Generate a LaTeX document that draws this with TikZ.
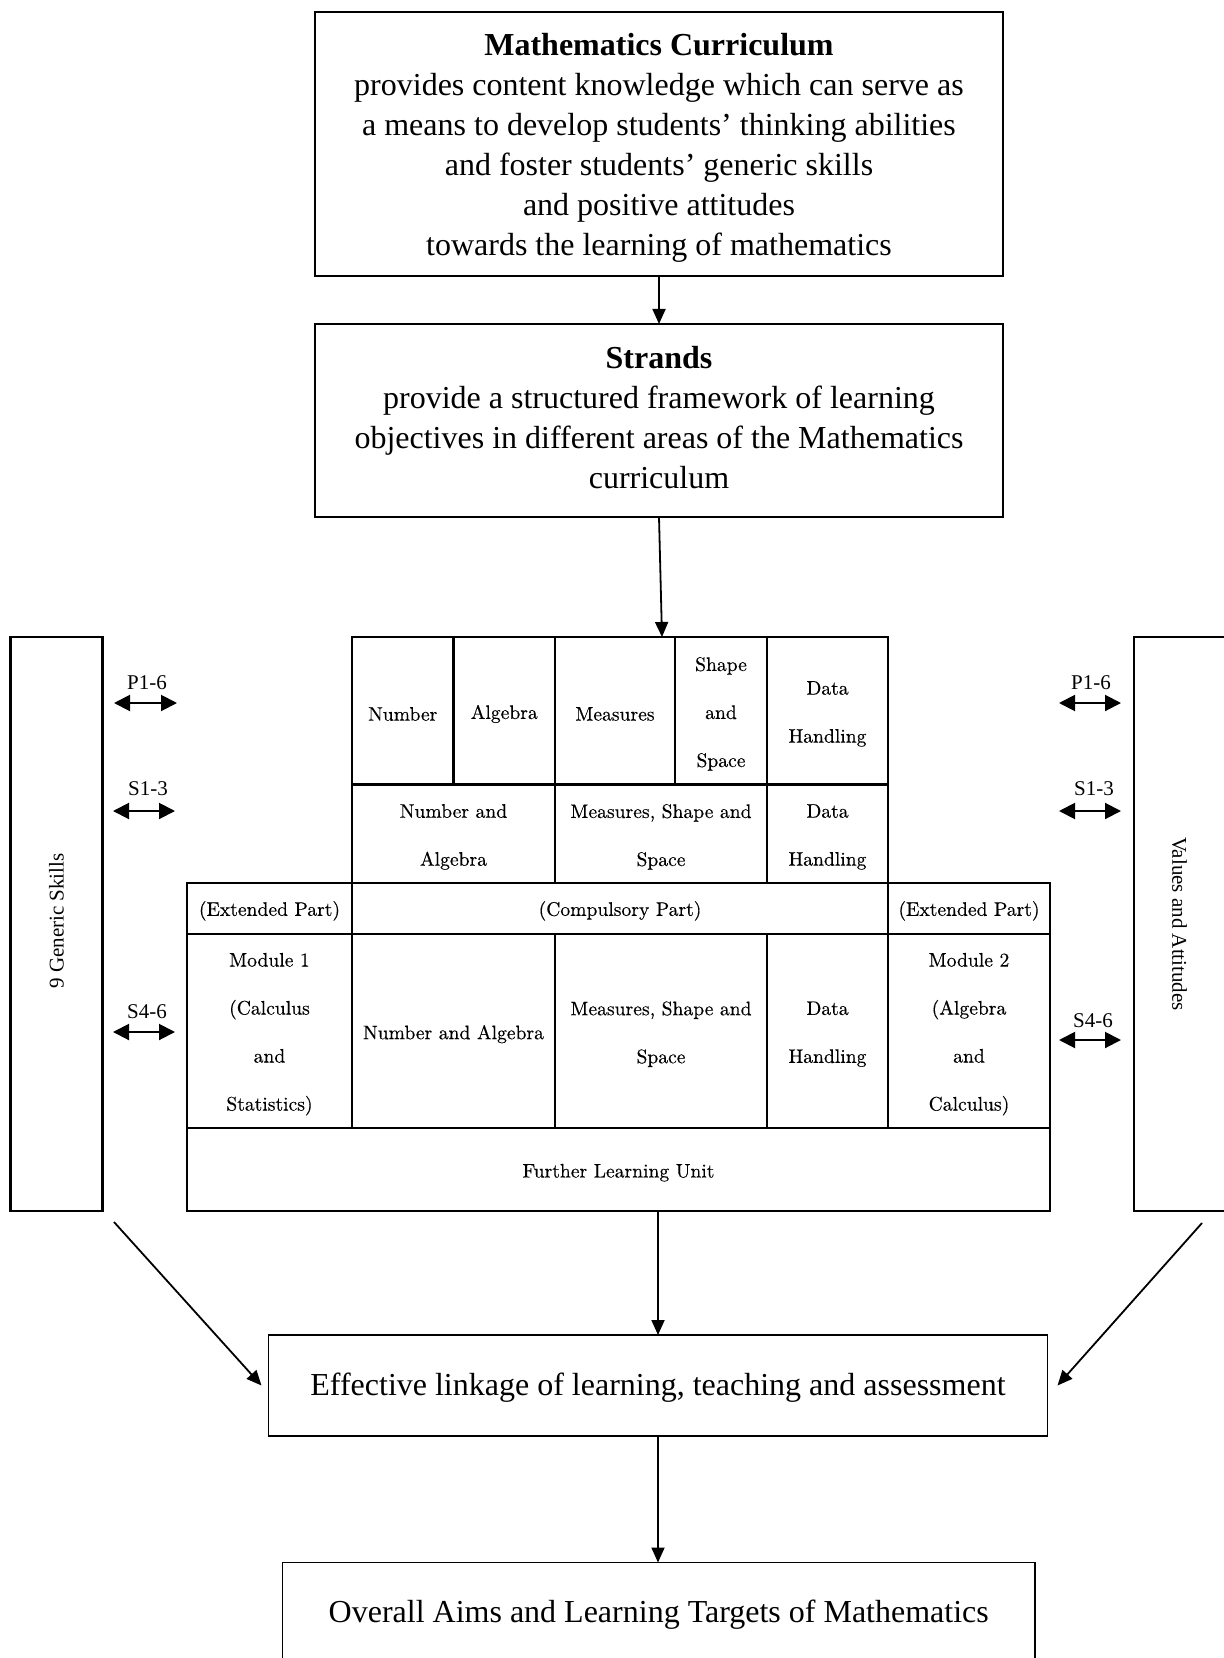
\documentclass[tikz,border=0pt]{standalone}
\usepackage{fontspec}
\newfontfamily\tnr{Liberation Serif}
\newfontfamily\tabfont[FakeBold=0.35]{lmroman10-regular.otf}
\usetikzlibrary{arrows.meta}
% #1 style, #2 name, #3 centre, #4 width, #5 height, #6 text shift, #7 text
\newcommand\mybox[7]{%
  \node[#1, minimum width=#4, minimum height=#5] (#2) at #3 {};
  \node[#1, draw=none, yshift=#6] (#2-t) at (#2.center) {#7};
}
\begin{document}
\begin{tikzpicture}[x=0.5pt,y=-0.5pt,
  cell/.style={draw, line width=1.35pt, inner sep=0pt, outer sep=0pt, align=center,
    font=\tabfont\fontsize{9.8}{24}\selectfont},
  bigbox/.style={draw, line width=1.1pt, inner sep=0pt, outer sep=0pt, align=center,
    font=\tnr\fontsize{16}{20}\selectfont},
  thinbox/.style={bigbox, line width=0.8pt},
  sidebox/.style={draw, line width=1.35pt, inner sep=0pt, outer sep=0pt},
  sidetext/.style={font=\tnr\fontsize{10.5}{12}\selectfont, inner sep=0pt},
  lvl/.style={font=\tnr\fontsize{10.5}{12}\selectfont, inner sep=0pt},
  flow/.style={line width=0.9pt, -{Triangle[length=7.5pt,width=6.5pt]}},
  both/.style={line width=1pt, {Triangle[length=8pt,width=8pt]}-{Triangle[length=8pt,width=8pt]}},
]
\useasboundingbox (0,0) rectangle (1224,1658);
\clip (0,0) rectangle (1224,1658);

% top boxes
\mybox{bigbox}{cur}{(659,144)}{344pt}{132pt}{-2pt}
  {\textbf{Mathematics Curriculum}\\provides content knowledge which can serve as\\a means to develop students’ thinking abilities\\and foster students’ generic skills\\and positive attitudes\\towards the learning of mathematics}
\mybox{bigbox}{str}{(659,420.5)}{344pt}{96.5pt}{1.5pt}
  {\textbf{Strands}\\provide a structured framework of learning\\objectives in different areas of the Mathematics\\curriculum}
\draw[flow] (cur) -- (str);

% table row 1
\mybox{cell}{num1}{(402.75,710.75)}{50.75pt}{73.75pt}{-1.6pt}{Number}
\mybox{cell}{alg1}{(504.25,710.75)}{50.75pt}{73.75pt}{-1.6pt}{Algebra}
\mybox{cell}{mea1}{(615,710.75)}{60pt}{73.75pt}{-1.6pt}{Measures}
\mybox{cell}{shs1}{(721,710.75)}{46pt}{73.75pt}{-1.6pt}{Shape\\and\\Space}
\mybox{cell}{dh1}{(827.5,710.75)}{60.5pt}{73.75pt}{-1.6pt}{Data\\Handling}
% row 2
\mybox{cell}{na2}{(453.5,833.75)}{101.5pt}{49.25pt}{-1.6pt}{Number and\\Algebra}
\mybox{cell}{mss2}{(661,833.75)}{106pt}{49.25pt}{-1.6pt}{Measures, Shape and\\Space}
\mybox{cell}{dh2}{(827.5,833.75)}{60.5pt}{49.25pt}{-1.6pt}{Data\\Handling}
% row 3
\mybox{cell}{ext1}{(269.5,908.5)}{82.5pt}{25.5pt}{-1.2pt}{(Extended Part)}
\mybox{cell}{comp}{(620,908.5)}{268pt}{25.5pt}{-1.2pt}{(Compulsory Part)}
\mybox{cell}{ext2}{(969,908.5)}{81pt}{25.5pt}{-1.2pt}{(Extended Part)}
% row 4
\mybox{cell}{mod1}{(269.5,1031)}{82.5pt}{97pt}{-1.6pt}{Module 1\\(Calculus\\and\\Statistics)}
\mybox{cell}{na4}{(453.5,1031)}{101.5pt}{97pt}{-1.6pt}{Number and Algebra}
\mybox{cell}{mss4}{(661,1031)}{106pt}{97pt}{-1.6pt}{Measures, Shape and\\Space}
\mybox{cell}{dh4}{(827.5,1031)}{60.5pt}{97pt}{-1.6pt}{Data\\Handling}
\mybox{cell}{mod2}{(969,1031)}{81pt}{97pt}{-1.6pt}{Module 2\\(Algebra\\and\\Calculus)}
% row 5
\mybox{cell}{flu}{(618.5,1169.5)}{431.5pt}{41.5pt}{-1.6pt}{Further Learning Unit}

\coordinate (ttop) at (662,637);
\draw[flow] (str.south) -- (ttop);

% side boxes
\node[sidebox, minimum width=46pt, minimum height=287pt] (gen) at (56.5,924) {};
\node[sidetext, rotate=90, xshift=1.5pt] (gent) at (gen.center) {9 Generic Skills};
\node[sidebox, minimum width=45.5pt, minimum height=287pt] (val) at (1179.5,924) {};
\node[sidetext, rotate=-90] (valt) at (val.center) {Values and Attitudes};

% double arrows, left
\coordinate (lpa) at (114,703); \coordinate (lpb) at (177,703);
\draw[both] (lpa) -- (lpb);
\node[lvl] (lpl) at (147,683) {P1-6};
\coordinate (lsa) at (113,811); \coordinate (lsb) at (175,811);
\draw[both] (lsa) -- (lsb);
\node[lvl] (lsl) at (148,789) {S1-3};
\coordinate (lta) at (113,1032); \coordinate (ltb) at (175,1032);
\draw[both] (lta) -- (ltb);
\node[lvl] (ltl) at (147,1012) {S4-6};
% double arrows, right
\coordinate (rpa) at (1059,703); \coordinate (rpb) at (1121,703);
\draw[both] (rpa) -- (rpb);
\node[lvl] (rpl) at (1091,683) {P1-6};
\coordinate (rsa) at (1059,811); \coordinate (rsb) at (1121,811);
\draw[both] (rsa) -- (rsb);
\node[lvl] (rsl) at (1094,789) {S1-3};
\coordinate (rta) at (1059,1040); \coordinate (rtb) at (1121,1040);
\draw[both] (rta) -- (rtb);
\node[lvl] (rtl) at (1093,1021) {S4-6};

% bottom boxes
\mybox{thinbox}{eff}{(658,1385.5)}{389.5pt}{50.5pt}{-1pt}
  {Effective linkage of learning, teaching and assessment}
\mybox{thinbox}{ov}{(658.75,1613)}{376.25pt}{50.5pt}{-1pt}
  {Overall Aims and Learning Targets of Mathematics}

\draw[flow] (flu.south -| eff.north) -- (eff.north);
\draw[flow] (eff.south) -- (eff.south |- ov.north);
\coordinate (gl) at (114,1222);
\coordinate (vr) at (1202,1223);
\draw[flow] (gl) -- ([xshift=-3.5pt]eff.west);
\draw[flow] (vr) -- ([xshift=5pt]eff.east);
\end{tikzpicture}
\end{document}
